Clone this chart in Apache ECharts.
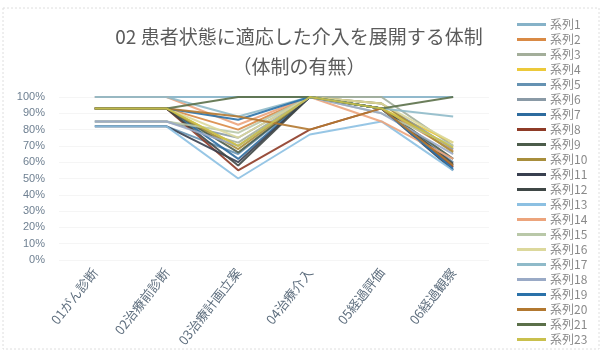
<!DOCTYPE html>
<html>
<head>
<meta charset="utf-8">
<script src="https://cdn.jsdelivr.net/npm/echarts@6/dist/echarts.min.js"></script>
<style>
  html, body { margin: 0; padding: 0; background: #ffffff; }
  #chart { width: 602px; height: 352px; }
</style>
</head>
<body>
<div id="chart"></div>
<script>
// Process stages along the x axis
const categories = ['01がん診断', '02治療前診断', '03治療計画立案', '04治療介入', '05経過評価', '06経過観察'];

// Y axis tick values (percent)
const yTicks = [0, 10, 20, 30, 40, 50, 60, 70, 80, 90, 100];

// Share of facilities with the system in place, per stage (%)
const s1  = [100, 100, 100, 100, 100, 100];
const s2  = [93, 93, 80, 100, 93, 67];
const s3  = [85, 85, 72, 100, 100, 70];
const s4  = [93, 93, 70, 100, 93, 72];
const s5  = [82, 82, 65, 100, 93, 60];
const s6  = [85, 85, 75, 100, 96, 68];
const s7  = [93, 93, 62, 100, 93, 58];
const s8  = [93, 93, 55, 80, 93, 57];
const s9  = [93, 93, 66, 100, 93, 62];
const s10 = [93, 93, 68, 100, 96, 66];
const s11 = [82, 82, 60, 100, 93, 55];
const s12 = [93, 93, 58, 100, 93, 59];
const s13 = [82, 82, 50, 77, 85, 55];
const s14 = [100, 100, 83, 100, 85, 62];
const s15 = [85, 85, 78, 100, 90, 70];
const s16 = [93, 93, 75, 100, 96, 72];
const s17 = [100, 100, 88, 100, 93, 88];
const s18 = [85, 85, 70, 100, 90, 65];
const s19 = [93, 93, 86, 100, 93, 56];
const s20 = [93, 93, 88, 80, 93, 58];
const s21 = [93, 93, 100, 100, 93, 100];
const s23 = [93, 93, 70, 100, 93, 69];

const seriesNames = ['系列1', '系列2', '系列3', '系列4', '系列5', '系列6', '系列7', '系列8', '系列9', '系列10', '系列11',
  '系列12', '系列13', '系列14', '系列15', '系列16', '系列17', '系列18', '系列19', '系列20', '系列21', '系列23'];
const seriesValues = [s1, s2, s3, s4, s5, s6, s7, s8, s9, s10, s11, s12, s13, s14, s15, s16, s17, s18, s19, s20, s21, s23];

const palette = ['#86b2c8', '#d98a45', '#a3ae9a', '#ecc93a', '#6592b2', '#8a9aa6', '#2d6b9e', '#8e3b27',
  '#4b5c4a', '#a88e3c', '#383f4f', '#3f4746', '#8cc0e2', '#eca47c', '#b9c8a8', '#dcd89c',
  '#8fbac9', '#9aaac6', '#2a71a9', '#b27830', '#5b7049', '#c9c04d'];

const chart = echarts.init(document.getElementById('chart'), null, { renderer: 'canvas' });

chart.setOption({
  animation: false,
  backgroundColor: '#ffffff',
  color: palette,
  graphic: [{
    type: 'rect',
    shape: { x: 3, y: 8, width: 596, height: 341 },
    style: { fill: 'none', stroke: '#dedede', lineWidth: 1, lineDash: [2, 2] },
    silent: true
  }],
  title: {
    text: '02 患者状態に適応した介入を展開する体制\n（体制の有無）',
    left: 294,
    top: 17,
    textAlign: 'center',
    textStyle: {
      fontFamily: 'Noto Sans CJK JP',
      fontSize: 19,
      fontWeight: 'normal',
      color: '#5b5b5b',
      lineHeight: 30
    }
  },
  legend: {
    orient: 'vertical',
    left: 512,
    top: 12,
    itemWidth: 29,
    itemHeight: 3,
    itemGap: 0,
    icon: 'rect',
    data: seriesNames,
    textStyle: {
      fontFamily: 'Noto Sans CJK JP',
      fontSize: 12,
      color: '#8a8a8a',
      lineHeight: 15,
      padding: [0, 0, 0, -1]
    }
  },
  grid: { left: 59, right: 113, top: 97, bottom: 92 },
  xAxis: {
    type: 'category',
    data: categories,
    boundaryGap: true,
    axisLine: { show: false },
    axisTick: { show: false },
    axisLabel: {
      rotate: 52,
      margin: 10,
      interval: 0,
      fontFamily: 'Noto Sans CJK JP',
      fontSize: 13,
      color: '#5e6e7e'
    }
  },
  yAxis: {
    type: 'value',
    min: yTicks[0],
    max: yTicks[yTicks.length - 1],
    interval: yTicks[1] - yTicks[0],
    axisLine: { show: false },
    axisTick: { show: false },
    splitLine: { lineStyle: { color: '#f5f5f5', width: 1 } },
    axisLabel: {
      formatter: '{value}%',
      margin: 14,
      fontFamily: 'Liberation Sans',
      fontSize: 11,
      color: '#6f8092'
    }
  },
  series: seriesNames.map((name, i) => ({
    name: name,
    type: 'line',
    data: seriesValues[i],
    symbol: 'none',
    lineStyle: { width: 2, opacity: 0.9 }
  }))
});
</script>
</body>
</html>
